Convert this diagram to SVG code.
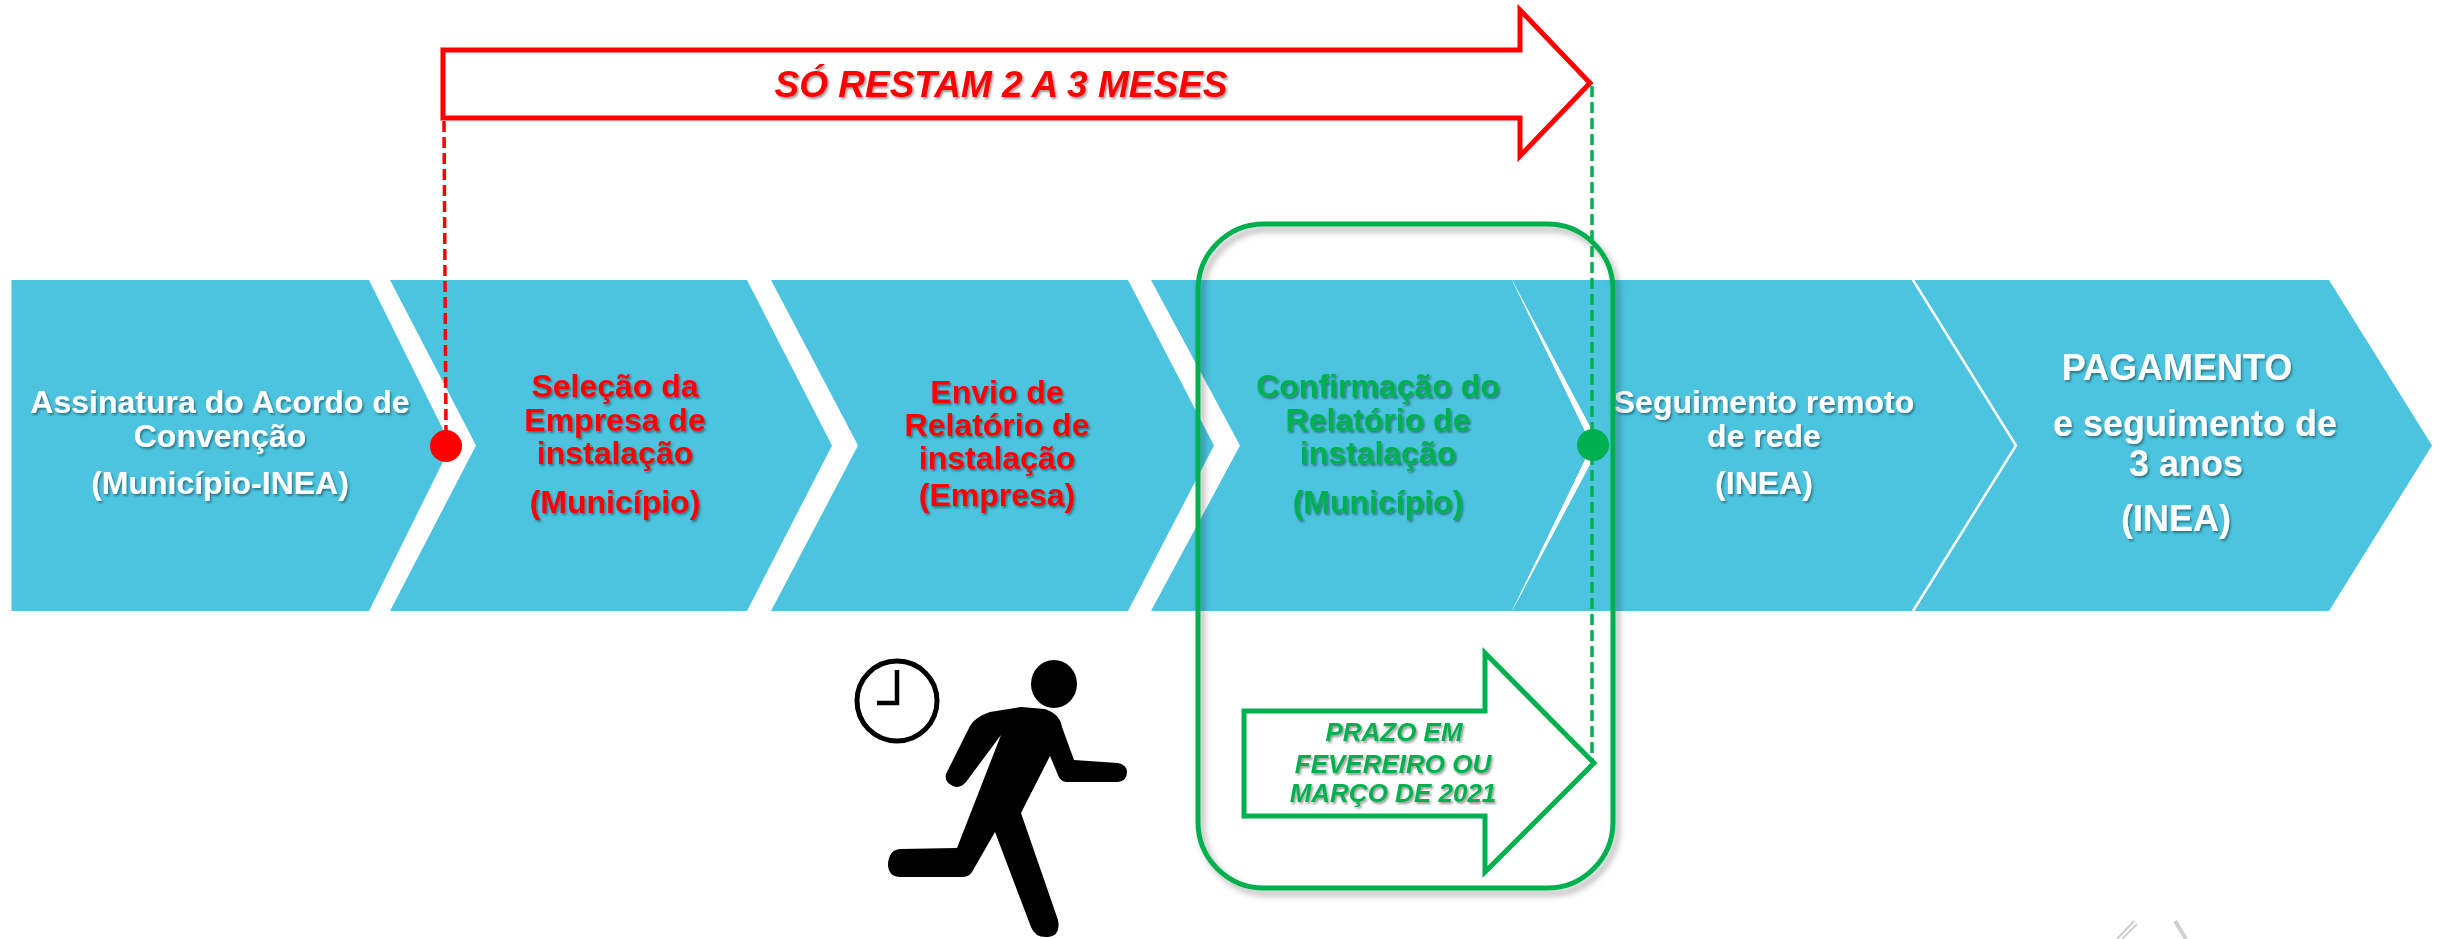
<svg xmlns="http://www.w3.org/2000/svg" width="2437" height="939" viewBox="0 0 2437 939">
<defs>
<style>
.chev{fill:#4CC4DF}
.t{font-family:"Liberation Sans",Arial,sans-serif;font-weight:bold;text-anchor:middle;filter:url(#ts)}
.w{fill:#ffffff;font-size:32px}
.r{fill:#FF0000;font-size:32px}
.g{fill:#00B050;font-size:32px}
.w6{fill:#ffffff;font-size:36px}
.it{font-style:italic}
.dash{fill:none;stroke-width:3.5;stroke-dasharray:11 5}
</style>
<filter id="ts" x="-10%" y="-30%" width="120%" height="160%">
<feDropShadow dx="1.5" dy="2" stdDeviation="1" flood-color="#000" flood-opacity="0.4"/>
</filter>
<filter id="bs" x="-10%" y="-10%" width="120%" height="120%">
<feDropShadow dx="4" dy="5" stdDeviation="3" flood-color="#000" flood-opacity="0.3"/>
</filter>
</defs>
<rect width="2437" height="939" fill="#ffffff"/>

<g id="node-1">
<path class="chev" d="M11.5,280 L369,280 L451,445.5 L369,611 L11.5,611 Z"/>
<text class="t w"><tspan x="220" y="413">Assinatura do Acordo de</tspan><tspan x="220" y="447">Convenção</tspan><tspan x="220" y="494">(Município-INEA)</tspan></text>
</g>
<g id="node-2">
<path class="chev" d="M390,280 L747,280 L832,445.5 L747,611 L390,611 L476,445.5 Z"/>
<text class="t r"><tspan x="615" y="397">Seleção da</tspan><tspan x="615" y="431">Empresa de</tspan><tspan x="615" y="464">instalação</tspan><tspan x="615" y="513">(Município)</tspan></text>
</g>
<g id="node-3">
<path class="chev" d="M771,280 L1128,280 L1214,445.5 L1128,611 L771,611 L858,445.5 Z"/>
<text class="t r"><tspan x="997" y="403">Envio de</tspan><tspan x="997" y="436">Relatório de</tspan><tspan x="997" y="469">instalação</tspan><tspan x="997" y="506">(Empresa)</tspan></text>
</g>
<g id="node-4">
<path class="chev" d="M1151,280 L1512,280 L1592,445.5 L1512,611 L1151,611 L1240,445.5 Z"/>
<text class="t g"><tspan x="1378" y="397">Confirmação do</tspan><tspan x="1378" y="431">Relatório de</tspan><tspan x="1378" y="464">instalação</tspan><tspan x="1378" y="513">(Município)</tspan></text>
</g>
<g id="node-5">
<path class="chev" d="M1512,280 L1913,280 L2016,445.5 L1913,611 L1512,611 L1600,445.5 Z"/>
<path d="M1512,280 L1600,445.5 L1512,611 L1592,445.5 Z" fill="#ffffff"/>
<text class="t w"><tspan x="1764" y="413">Seguimento remoto</tspan><tspan x="1764" y="447">de rede</tspan><tspan x="1764" y="494">(INEA)</tspan></text>
</g>
<g id="node-6">
<path class="chev" d="M1913,280 L2329,280 L2432,445.5 L2329,611 L1913,611 L2016,445.5 Z"/>
<path d="M1913,280 L2016,445.5 L1913,611" fill="none" stroke="#ffffff" stroke-width="2.5"/>
<text class="t w6" x="2177" y="380">PAGAMENTO</text>
<text class="t w6" x="2195" y="436" font-size="35">e seguimento de</text>
<text class="t w6" x="2186" y="476">3 anos</text>
<text class="t w6" x="2176" y="531">(INEA)</text>
</g>

<g id="green-box">
<rect x="1198" y="224" width="415" height="664" rx="66" ry="66" fill="none" stroke="#00B050" stroke-width="5" filter="url(#bs)"/>
</g>

<g id="red-arrow">
<path d="M443,50 L1520,50 L1520,10 L1590,83 L1520,156 L1520,118 L443,118 Z" fill="#ffffff" stroke="#FF0000" stroke-width="5" stroke-linejoin="miter"/>
<text class="t it" fill="#FF0000" font-size="37" x="1001" y="97">SÓ RESTAM 2 A 3 MESES</text>
</g>

<g id="green-arrow">
<path d="M1244,711 L1485,711 L1485,653 L1594,763 L1485,872 L1485,816 L1244,816 Z" fill="#ffffff" stroke="#00B050" stroke-width="5"/>
<text class="t it" fill="#00B050" font-size="26"><tspan x="1394" y="741">PRAZO EM</tspan><tspan x="1393" y="773">FEVEREIRO OU</tspan><tspan x="1393" y="802">MARÇO DE 2021</tspan></text>
</g>

<g id="connectors">
<line class="dash" x1="444" y1="121" x2="446" y2="432" stroke="#FF0000"/>
<circle cx="446" cy="446" r="16" fill="#FF0000"/>
<line class="dash" x1="1592" y1="86" x2="1592" y2="762" stroke="#00B050"/>
<circle cx="1593" cy="445" r="16" fill="#00B050"/>
</g>

<g id="clock">
<circle cx="897" cy="701" r="40" fill="none" stroke="#000" stroke-width="5"/>
<path d="M897,670 L897,703 L877,703" fill="none" stroke="#000" stroke-width="4.5"/>
</g>

<g id="runner">
<ellipse cx="1054" cy="684" rx="23" ry="24" fill="#000"/>
<path fill="#000" d="M1021,707 L1045,709 Q1060,714 1062,727 L1074,760 L1118,763 Q1127,765 1127,772 Q1127,781 1118,782 L1066,782 Q1060,781 1058,775 L1050,756 L1021,813 L1058,920 Q1061,936 1048,937 Q1035,938 1031,927 L995,832 L972,872 Q969,877 962,877 L899,877 Q888,876 888,864 Q889,850 900,849 L957,848 L1001,735 L966,782 Q960,789 953,786 Q944,782 946,774 L970,726 Q975,717 990,712 Z"/>
</g>

<g id="corner-fragment" fill="none" stroke="#cfcfcf" stroke-width="2">
<path d="M2117,939 L2134,921"/>
<path d="M2122,939 L2137,924"/>
<path d="M2175,921 L2186,939" stroke-width="4"/>
</g>
</svg>
